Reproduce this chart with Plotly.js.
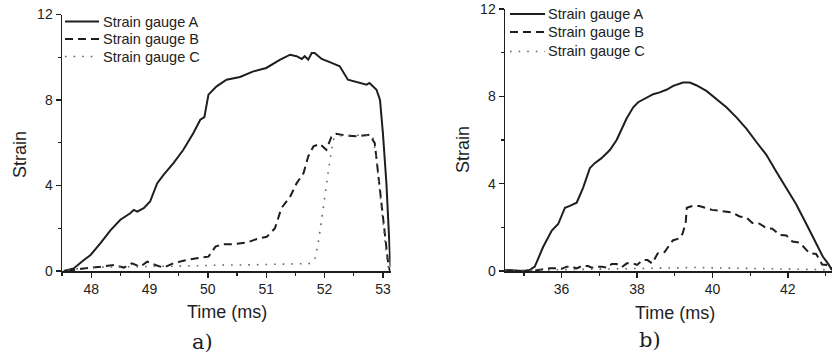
<!DOCTYPE html>
<html>
<head>
<meta charset="utf-8">
<script src="https://cdn.plot.ly/plotly-3.0.1.min.js"></script>
<style>html,body{margin:0;padding:0;background:#fff;}#chart{width:833px;height:360px;}</style>
</head>
<body>
<div id="chart"></div>
<script>
// ---------- Panel a) ----------
var aTimeA = [47.53,47.70,47.87,47.99,48.16,48.33,48.50,48.67,48.73,48.79,48.90,49.01,49.13,49.24,49.41,49.58,49.75,49.87,49.94,50.01,50.15,50.32,50.55,50.78,51.00,51.24,51.41,51.52,51.61,51.66,51.72,51.78,51.83,51.95,52.09,52.26,52.40,52.55,52.72,52.77,52.89,52.95,53.00,53.06,53.10,53.13];
var aGaugeA = [0,0.12,0.5,0.75,1.3,1.9,2.4,2.7,2.86,2.78,2.94,3.25,4.1,4.5,5.05,5.67,6.45,7.08,7.2,8.25,8.64,8.95,9.08,9.34,9.5,9.89,10.12,10.05,9.92,10.05,9.89,10.2,10.2,9.92,9.77,9.58,8.95,8.83,8.72,8.8,8.48,8.0,6.45,4.1,1.77,0.2];

var aTimeB = [47.59,47.87,48.16,48.39,48.56,48.70,48.84,48.96,49.10,49.24,49.41,49.58,49.81,50.01,50.13,50.24,50.44,50.67,50.84,51.01,51.15,51.26,51.41,51.52,51.64,51.72,51.81,51.92,52.03,52.12,52.20,52.38,52.55,52.77,52.86,52.92,52.97,53.03,53.09,53.12];
var aGaugeB = [0,0.12,0.2,0.28,0.16,0.36,0.2,0.44,0.28,0.16,0.36,0.48,0.6,0.67,1.14,1.25,1.25,1.33,1.5,1.6,2.0,2.94,3.48,4.1,4.58,5.36,5.83,5.95,5.67,6.3,6.42,6.33,6.3,6.38,5.98,4.58,3.33,1.77,0.36,0];

var aTimeC = [47.6,47.9,48.2,48.5,48.8,49.1,49.4,49.7,50.0,50.3,50.6,50.9,51.2,51.5,51.75,51.83,51.89,51.95,52.0,52.06,52.12,52.16,52.3,52.5,52.7,52.83,52.87,52.92,52.97,53.02,53.07,53.1];
var aGaugeC = [0.05,0.15,0.18,0.2,0.2,0.22,0.22,0.25,0.25,0.28,0.28,0.3,0.3,0.32,0.35,0.5,1.3,2.4,3.48,4.58,5.67,6.22,6.35,6.35,6.35,6.3,5.6,4.4,3.0,1.7,0.5,0.05];

// ---------- Panel b) ----------
var bTimeA = [34.5,34.72,34.98,35.16,35.29,35.51,35.74,35.91,36.09,36.22,36.4,36.57,36.75,36.88,37.06,37.28,37.46,37.72,37.9,38.03,38.16,38.43,38.6,38.78,38.96,39.22,39.4,39.57,39.84,40.1,40.37,40.63,40.9,41.16,41.43,41.69,41.96,42.22,42.49,42.75,42.93,43.06,43.17];
var bGaugeA = [0.05,0.02,0,0.05,0.2,1.1,1.85,2.15,2.9,2.98,3.13,3.81,4.71,4.94,5.17,5.54,6.0,6.97,7.5,7.73,7.85,8.1,8.18,8.3,8.48,8.63,8.63,8.51,8.25,7.88,7.5,7.05,6.52,5.92,5.32,4.56,3.81,3.06,2.15,1.25,0.65,0.35,0.05];

var bTimeB = [35.3,35.7,35.87,36.0,36.14,36.27,36.4,36.54,36.7,36.8,36.93,37.07,37.2,37.33,37.46,37.6,37.73,37.89,38.0,38.15,38.28,38.4,38.55,38.73,38.95,39.13,39.21,39.29,39.32,39.47,39.65,39.99,40.19,40.37,40.53,40.72,40.9,41.06,41.25,41.43,41.59,41.78,41.96,42.12,42.31,42.57,42.75,42.91,43.1,43.17];
var bGaugeB = [0.02,0.13,0.13,0.1,0.2,0.2,0.12,0.23,0.23,0.15,0.2,0.2,0.15,0.32,0.32,0.18,0.35,0.35,0.28,0.5,0.5,0.35,0.81,0.87,1.4,1.5,1.72,2.2,2.9,2.98,2.98,2.8,2.76,2.7,2.68,2.5,2.45,2.2,2.17,1.96,1.94,1.65,1.63,1.35,1.3,0.82,0.78,0.3,0.27,0.05];

var bTimeC = [34.5,35,35.5,36,36.5,37,37.5,38,38.5,39,39.5,40,40.5,41,41.5,42,42.5,43,43.17];
var bGaugeC = [0.02,0.03,0.05,0.05,0.06,0.07,0.08,0.1,0.12,0.14,0.16,0.15,0.14,0.12,0.1,0.1,0.08,0.06,0.03];

var seriesNames = ["Strain gauge A", "Strain gauge B", "Strain gauge C"];
var xTitle = "Time (ms)";
var yTitle = "Strain";
var panelLabels = ["a)", "b)"];

var ink = "#1e1e1e";
var styA = {color: ink, width: 2, dash: "solid"};
var styB = {color: ink, width: 2, dash: "8px,5px"};
var styC = {color: "#666", width: 1.6, dash: "1.6px,7px"};
var styles = [styA, styB, styC];

function tr(x, y, name, line, xa, ya) {
  return {x: x, y: y, name: name, type: "scatter", mode: "lines", line: line,
          xaxis: xa, yaxis: ya, hoverinfo: "skip", showlegend: false};
}

var data = [
  tr(aTimeA, aGaugeA, seriesNames[0], styA, "x", "y"),
  tr(aTimeB, aGaugeB, seriesNames[1], styB, "x", "y"),
  tr(aTimeC, aGaugeC, seriesNames[2], styC, "x", "y"),
  tr(bTimeA, bGaugeA, seriesNames[0], styA, "x2", "y2"),
  tr(bTimeB, bGaugeB, seriesNames[1], styB, "x2", "y2"),
  tr(bTimeC, bGaugeC, seriesNames[2], styC, "x2", "y2")
];

var W = 833, H = 360;
var fontSans = "Liberation Sans, Arial, sans-serif";
function ax(extra) {
  var base = {showline: true, linecolor: ink, linewidth: 1.5, ticks: "outside",
    ticklen: 5, tickwidth: 1.3, tickcolor: ink, showgrid: false, zeroline: false,
    ticklabeloverflow: "allow",
    tickfont: {family: fontSans, size: 14, color: "#222"}, fixedrange: true};
  for (var k in extra) base[k] = extra[k];
  return base;
}
function ann(text, x, y, size, angle, family, anchor) {
  return {text: text, xref: "paper", yref: "paper", x: x / W, y: 1 - y / H,
    xanchor: anchor || "center", yanchor: "middle", showarrow: false, textangle: angle || 0,
    font: {family: family || fontSans, size: size, color: "#1e1e1e"}};
}

// manual legends (sample line + label), one per panel
var annotations = [
  ann(xTitle, 227, 312, 18),
  ann(xTitle, 675, 313, 18),
  ann(yTitle, 20, 155, 18, -90),
  ann(yTitle, 463, 150, 18, -90),
  ann(panelLabels[0], 202, 342, 21, 0, "DejaVu Serif, serif"),
  ann(panelLabels[1], 650, 340, 21, 0, "DejaVu Serif, serif")
];
var shapes = [];
var legendSpecs = [
  {x0: 65, x1: 99, tx: 101, rows: [21.5, 39, 56.5]},
  {x0: 510, x1: 545, tx: 546, rows: [14, 32, 51.5]}
];
legendSpecs.forEach(function (L) {
  for (var i = 0; i < seriesNames.length; i++) {
    var y = 1 - L.rows[i] / H;
    shapes.push({type: "line", xref: "paper", yref: "paper",
      x0: L.x0 / W, x1: L.x1 / W, y0: y, y1: y,
      line: {color: styles[i].color, width: styles[i].width, dash: styles[i].dash}});
    var a = ann(seriesNames[i], L.tx, L.rows[i], 14.5, 0, fontSans, "left");
    a.font.color = "#222";
    annotations.push(a);
  }
});

var layout = {
  width: W, height: H,
  margin: {l: 0, r: 0, t: 0, b: 0},
  paper_bgcolor: "#fff", plot_bgcolor: "#fff",
  showlegend: false,
  xaxis: ax({domain: [62 / W, 390.5 / W], range: [47.5, 53.13], dtick: 1, tick0: 48,
    minor: {dtick: 0.5, ticks: "outside", ticklen: 3, tickcolor: ink}, anchor: "y"}),
  yaxis: ax({domain: [89 / H, 345.5 / H], range: [0, 12.001], dtick: 4, tick0: 0,
    minor: {dtick: 2, ticks: "outside", ticklen: 3, tickcolor: ink}, anchor: "x"}),
  xaxis2: ax({domain: [505 / W, 832 / W], range: [34.5, 43.17], dtick: 2, tick0: 36,
    minor: {dtick: 1, ticks: "outside", ticklen: 3, tickcolor: ink}, anchor: "y2"}),
  yaxis2: ax({domain: [89 / H, 351 / H], range: [0, 12.001], dtick: 4, tick0: 0,
    minor: {dtick: 2, ticks: "outside", ticklen: 3, tickcolor: ink}, anchor: "x2"}),
  shapes: shapes,
  annotations: annotations
};

Plotly.newPlot("chart", data, layout, {staticPlot: true, displayModeBar: false});
</script>
</body>
</html>
